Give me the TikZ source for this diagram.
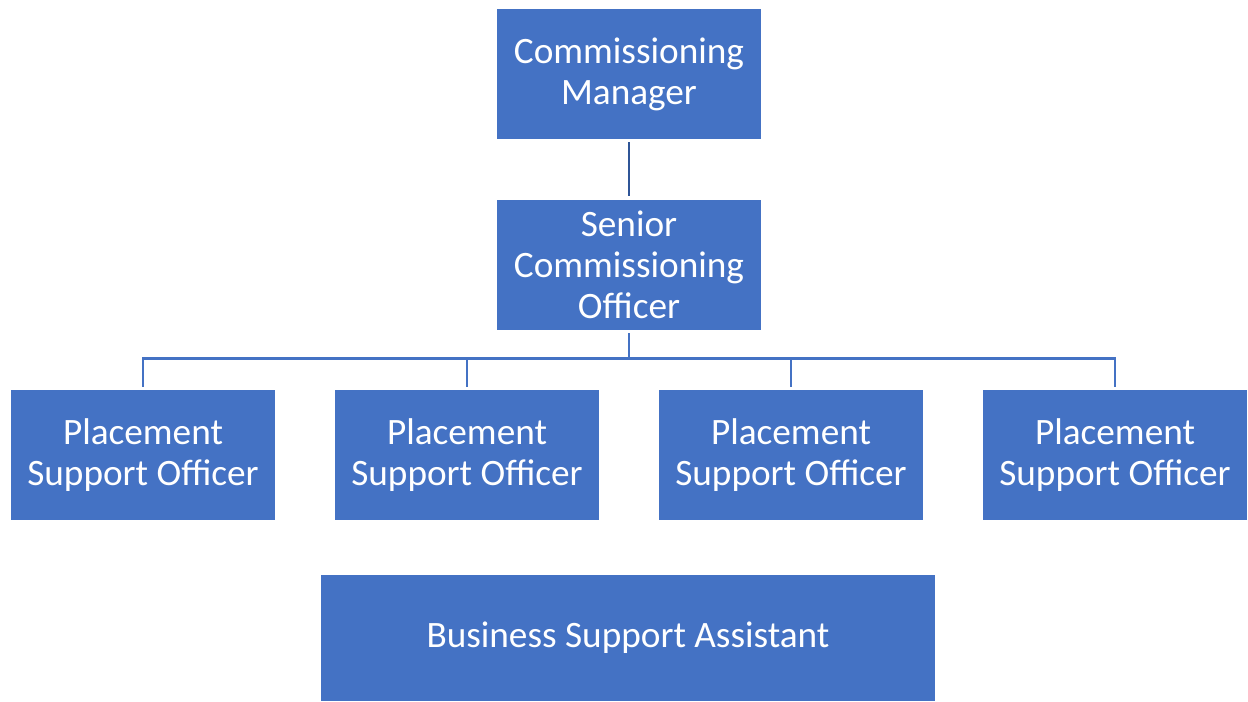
\documentclass[tikz,border=0pt]{standalone}
\usepackage{fontspec}
\setmainfont{Carlito}
\usetikzlibrary{positioning}
\definecolor{boxblue}{HTML}{4472C4}
\definecolor{darkblue}{HTML}{2F5597}
\tikzset{
block/.style={rectangle, fill=boxblue, text=white, align=center, inner sep=0pt,
  minimum width=5.28cm, minimum height=2.6cm,
  font=\fontsize{21.2}{23.3}\selectfont},
line/.style={draw, darkblue, line width=1.4pt},
tree/.style={draw, boxblue, line width=1.4pt}
}
\begin{document}
\begin{tikzpicture}[node distance = 3.82cm, auto]
    \useasboundingbox (0,0) rectangle (24.96,-14.04);
    % Place nodes
    \node [block] (manager) at (12.58,-1.48) {Commissioning\\Manager};
    \node [block, below of=manager] (senior) {Senior\\Commissioning\\Officer};
    \node [block] (placementA) at (2.86,-9.10) {Placement\\Support Officer};
    \node [block, right of=placementA, node distance=6.48cm] (placementB) {Placement\\Support Officer};
    \node [block, right of=placementB, node distance=6.48cm] (placementC) {Placement\\Support Officer};
    \node [block, right of=placementC, node distance=6.48cm] (placementD) {Placement\\Support Officer};
    \node [block, minimum width=12.28cm, minimum height=2.52cm] (assistant) at (12.56,-12.76) {Business Support Assistant};
    \coordinate [below=0.56cm of senior.south] (bus);
    % Draw edges
    \path [line, shorten <=0.06cm, shorten >=0.08cm] (manager) -- (senior);
    \path [tree, shorten <=0.06cm] (senior) -- (bus);
    \path [tree, shorten >=0.05cm] (bus) -| (placementA);
    \path [tree, shorten >=0.05cm] (bus) -| (placementB);
    \path [tree, shorten >=0.05cm] (bus) -| (placementC);
    \path [tree, shorten >=0.05cm] (bus) -| (placementD);
\end{tikzpicture}
\end{document}
